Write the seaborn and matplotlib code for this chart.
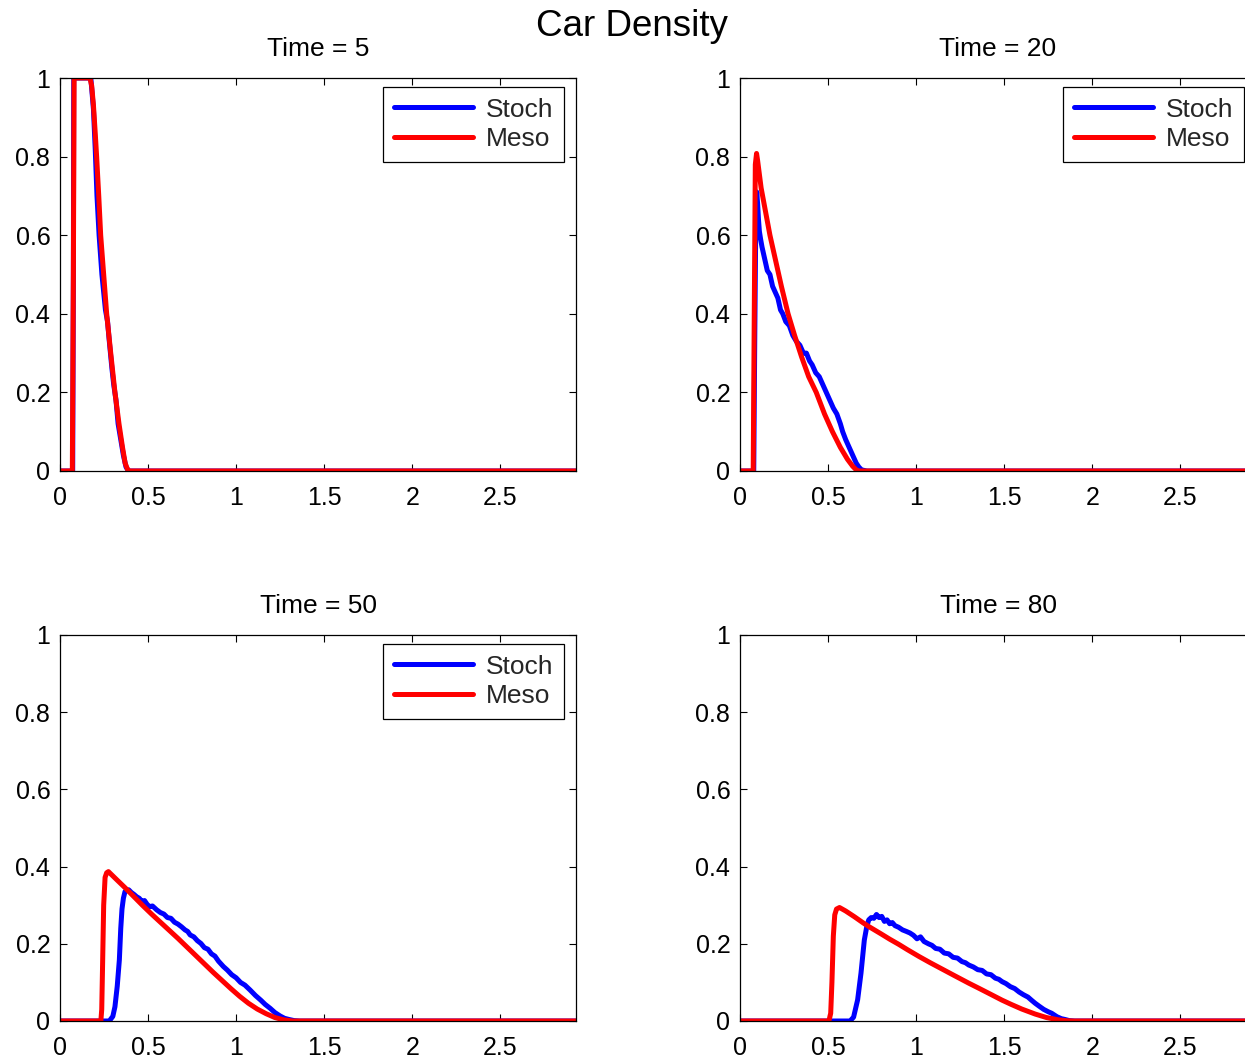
import matplotlib
matplotlib.use("Agg")
import matplotlib.pyplot as plt
import seaborn as sns
import pandas as pd

# ---------------- data ----------------
titles = ["Time = 5", "Time = 20", "Time = 50", "Time = 80"]
x_ticks = [0, 0.5, 1, 1.5, 2, 2.5]
x_tick_labels = ["0", "0.5", "1", "1.5", "2", "2.5"]
y_ticks = [0, 0.2, 0.4, 0.6, 0.8, 1.0]
y_tick_labels = ["0", "0.2", "0.4", "0.6", "0.8", "1"]

# Time = 5
stoch_x5 = [0, 0.072, 0.076, 0.078, 0.175, 0.19, 0.20, 0.21, 0.222, 0.238, 0.258, 0.27, 0.28,
            0.295, 0.305, 0.318, 0.33, 0.345, 0.36, 0.375, 0.39, 2.93]
stoch_y5 = [0, 0, 0.5, 1.0, 1.0, 0.92, 0.82, 0.70, 0.60, 0.50, 0.41, 0.38, 0.33,
            0.26, 0.22, 0.18, 0.12, 0.08, 0.04, 0.01, 0.0, 0]
meso_x5 = [0, 0.070, 0.076, 0.080, 0.17, 0.18, 0.19, 0.20, 0.208, 0.22, 0.231, 0.248, 0.265,
           0.288, 0.312, 0.335, 0.355, 0.37, 0.385, 0.40, 2.93]
meso_y5 = [0, 0, 0.5, 1.0, 1.0, 0.98, 0.93, 0.86, 0.80, 0.70, 0.60, 0.50, 0.40,
           0.30, 0.20, 0.12, 0.06, 0.02, 0.002, 0, 0]

# Time = 20
stoch_x20 = [0, 0.078, 0.084, 0.09, 0.095, 0.10, 0.105, 0.11, 0.117, 0.125, 0.135, 0.145, 0.155,
             0.17, 0.185, 0.20, 0.215, 0.23, 0.243, 0.26, 0.28, 0.30, 0.32, 0.34, 0.36, 0.377,
             0.395, 0.41, 0.43, 0.45, 0.47, 0.49, 0.51, 0.53, 0.55, 0.57, 0.583, 0.60, 0.62,
             0.64, 0.66, 0.675, 0.69, 0.72, 2.93]
stoch_y20 = [0, 0, 0.35, 0.65, 0.71, 0.68, 0.64, 0.61, 0.59, 0.57, 0.55, 0.53, 0.51,
             0.50, 0.47, 0.455, 0.44, 0.41, 0.40, 0.38, 0.37, 0.345, 0.33, 0.32, 0.30, 0.30,
             0.28, 0.27, 0.25, 0.24, 0.22, 0.20, 0.18, 0.16, 0.145, 0.12, 0.10, 0.08, 0.06,
             0.04, 0.02, 0.01, 0.003, 0, 0]
meso_x20 = [0, 0.075, 0.081, 0.087, 0.094, 0.10, 0.12, 0.145, 0.17, 0.20, 0.235, 0.273, 0.31,
            0.35, 0.39, 0.433, 0.48, 0.525, 0.57, 0.61, 0.64, 0.66, 0.675, 2.93]
meso_y20 = [0, 0, 0.4, 0.78, 0.808, 0.79, 0.72, 0.66, 0.60, 0.54, 0.47, 0.40, 0.345,
            0.29, 0.24, 0.20, 0.145, 0.10, 0.06, 0.03, 0.012, 0.003, 0, 0]

# Time = 50
stoch_x50 = [0, 0.28, 0.30, 0.312, 0.325, 0.337, 0.345, 0.352, 0.36, 0.369, 0.38, 0.39, 0.405,
             0.42, 0.435, 0.45, 0.465, 0.48, 0.495, 0.51, 0.525, 0.549, 0.57, 0.59, 0.61, 0.63,
             0.65, 0.67, 0.69, 0.71, 0.725, 0.739, 0.76, 0.78, 0.80, 0.82, 0.84, 0.86, 0.88,
             0.90, 0.928, 0.95, 0.975, 1.00, 1.025, 1.05, 1.08, 1.11, 1.14, 1.165, 1.193, 1.22,
             1.25, 1.275, 1.30, 1.33, 1.36, 2.93]
stoch_y50 = [0, 0, 0.012, 0.037, 0.09, 0.158, 0.24, 0.29, 0.318, 0.335, 0.338, 0.34, 0.333,
             0.328, 0.322, 0.318, 0.31, 0.312, 0.302, 0.296, 0.298, 0.288, 0.281, 0.277, 0.268, 0.266,
             0.256, 0.251, 0.244, 0.236, 0.232, 0.223, 0.218, 0.208, 0.201, 0.19, 0.186, 0.174, 0.168,
             0.155, 0.141, 0.132, 0.12, 0.112, 0.10, 0.093, 0.08, 0.066, 0.054, 0.043, 0.033, 0.022,
             0.013, 0.007, 0.004, 0.001, 0, 0]
meso_x50 = [0, 0.232, 0.237, 0.242, 0.248, 0.256, 0.265, 0.275, 0.32, 0.37, 0.42, 0.47, 0.52,
            0.57, 0.62, 0.67, 0.72, 0.77, 0.82, 0.87, 0.92, 0.97, 1.02, 1.07, 1.12, 1.17, 1.22,
            1.27, 1.32, 2.93]
meso_y50 = [0, 0, 0.03, 0.15, 0.30, 0.372, 0.384, 0.387, 0.367, 0.345, 0.322, 0.299, 0.277,
            0.256, 0.235, 0.214, 0.192, 0.17, 0.148, 0.126, 0.105, 0.084, 0.064, 0.046, 0.031,
            0.019, 0.009, 0.003, 0, 0]

# Time = 80
stoch_x80 = [0, 0.625, 0.645, 0.668, 0.687, 0.706, 0.72, 0.731, 0.745, 0.76, 0.775, 0.79, 0.805,
             0.82, 0.835, 0.85, 0.865, 0.88, 0.90, 0.923, 0.945, 0.965, 0.985, 1.005, 1.025,
             1.045, 1.07, 1.09, 1.111, 1.135, 1.16, 1.185, 1.21, 1.235, 1.26, 1.28, 1.299,
             1.325, 1.35, 1.375, 1.40, 1.425, 1.45, 1.47, 1.488, 1.51, 1.535, 1.56, 1.585,
             1.61, 1.635, 1.655, 1.676, 1.70, 1.725, 1.75, 1.77, 1.80, 1.825, 1.845, 1.87,
             1.90, 2.93]
stoch_y80 = [0, 0, 0.01, 0.055, 0.124, 0.21, 0.245, 0.262, 0.268, 0.266, 0.276, 0.268, 0.271,
             0.258, 0.262, 0.252, 0.255, 0.247, 0.243, 0.236, 0.232, 0.228, 0.222, 0.213, 0.218,
             0.206, 0.20, 0.196, 0.188, 0.186, 0.176, 0.174, 0.165, 0.163, 0.154, 0.151, 0.145,
             0.14, 0.133, 0.131, 0.122, 0.12, 0.111, 0.108, 0.102, 0.097, 0.089, 0.084, 0.075,
             0.068, 0.062, 0.054, 0.046, 0.038, 0.03, 0.024, 0.02, 0.011, 0.006, 0.004, 0.001,
             0, 0]
meso_x80 = [0, 0.505, 0.515, 0.522, 0.53, 0.538, 0.548, 0.565, 0.60, 0.65, 0.70, 0.734, 0.80,
            0.85, 0.90, 0.95, 1.017, 1.08, 1.15, 1.22, 1.299, 1.36, 1.42, 1.488, 1.54, 1.60,
            1.676, 1.74, 1.808, 1.86, 1.90, 2.93]
meso_y80 = [0, 0, 0.02, 0.10, 0.22, 0.275, 0.29, 0.294, 0.285, 0.27, 0.254, 0.244, 0.226,
            0.212, 0.199, 0.185, 0.167, 0.151, 0.134, 0.117, 0.098, 0.084, 0.07, 0.054, 0.043,
            0.031, 0.018, 0.009, 0.003, 0.0005, 0, 0]

panels = [
    (stoch_x5, stoch_y5, meso_x5, meso_y5, True),
    (stoch_x20, stoch_y20, meso_x20, meso_y20, True),
    (stoch_x50, stoch_y50, meso_x50, meso_y50, True),
    (stoch_x80, stoch_y80, meso_x80, meso_y80, False),
]

# ---------------- style ----------------
sns.set_theme(style="white")
plt.rcParams["font.family"] = ["Liberation Sans", "DejaVu Sans"]
plt.rcParams["axes.edgecolor"] = "black"
plt.rcParams["axes.linewidth"] = 0.9

W, H = 1245, 1061
fig = plt.figure(figsize=(W / 100, H / 100), dpi=100)
fig.patch.set_facecolor("white")

# axes boxes in pixel coords: (left, top, width, height)
boxes = [(60, 78, 516, 393), (740, 78, 516, 393), (60, 635, 516, 386), (740, 635, 516, 386)]

TICK_FS = 18
TITLE_FS = 19
LEG_FS = 19
LW = 3.6
for i, ((sx, sy, mx, my, leg), (l, t, w, h)) in enumerate(zip(panels, boxes)):
    ax = fig.add_axes([l / W, 1 - (t + h) / H, w / W, h / H])
    ax.set_facecolor("white")
    ds = pd.DataFrame({"x": sx, "y": sy})
    dm = pd.DataFrame({"x": mx, "y": my})
    sns.lineplot(data=ds, x="x", y="y", ax=ax, color="#0000ff", lw=LW,
                 estimator=None, sort=False, label="Stoch", solid_joinstyle="round")
    sns.lineplot(data=dm, x="x", y="y", ax=ax, color="#ff0000", lw=LW,
                 estimator=None, sort=False, label="Meso", solid_joinstyle="round")
    ax.set_xlim(0, 2.93)
    ax.set_ylim(0, 1)
    ax.set_xticks(x_ticks)
    ax.set_xticklabels(x_tick_labels)
    ax.set_yticks(y_ticks)
    ax.set_yticklabels(y_tick_labels)
    ax.tick_params(direction="in", length=5, width=0.8, top=True, right=True,
                   bottom=True, left=True, labelsize=TICK_FS, colors="black")
    ax.tick_params(axis="x", pad=11)
    ax.tick_params(axis="y", pad=7)
    ax.set_xlabel("")
    ax.set_ylabel("")
    ax.set_title(titles[i], fontsize=TITLE_FS, pad=16, color="black")
    for s in ax.spines.values():
        s.set_visible(True)
        s.set_color("black")
        s.set_linewidth(0.9)
    if leg:
        lg = ax.legend(loc="upper left", bbox_to_anchor=(323 / w, 1 - 9 / h),
                       fontsize=LEG_FS, handlelength=3.0, frameon=True, fancybox=False,
                       borderaxespad=0, borderpad=0.4, labelspacing=0.22,
                       handletextpad=0.5, framealpha=1)
        lg.get_frame().set_edgecolor("black")
        lg.get_frame().set_linewidth(0.9)
        for ln in lg.get_lines():
            ln.set_linewidth(LW)
    else:
        if ax.get_legend():
            ax.get_legend().remove()

fig.text(632 / W, 1 - 26 / H, "Car Density", ha="center", va="center", fontsize=26.5, color="black")

fig.savefig("out.png", dpi=100, facecolor="white")
